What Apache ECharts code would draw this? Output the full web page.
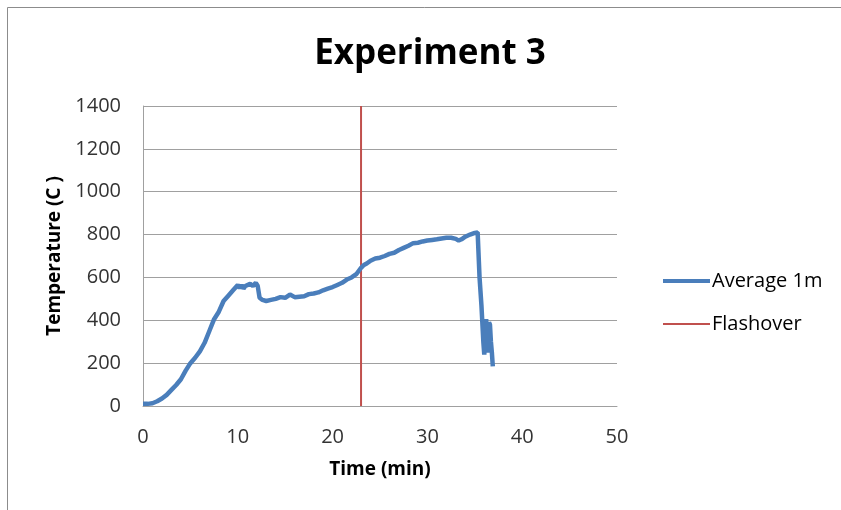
<!DOCTYPE html>
<html><head><meta charset="utf-8">
<script src="https://cdn.jsdelivr.net/npm/echarts@6/dist/echarts.min.js"></script>
<style>html,body{margin:0;padding:0;background:#fff}#c{width:841px;height:510px}</style>
</head><body><div id="c"></div>
<script>
const timeMin = [0,0.5,1,1.5,2,2.5,3,3.5,4,4.5,5,5.5,6,6.5,7,7.5,8,8.5,9,9.5,10,10.2,10.4,10.6,10.8,11,11.3,11.6,11.9,12.1,12.3,12.6,13,13.5,14,14.5,15,15.5,16,16.5,17,17.5,18,18.5,19,19.5,20,20.5,21,21.5,22,22.5,23,23.3,23.6,24,24.5,25,25.5,26,26.5,27,27.5,28,28.5,29,29.5,30,30.5,31,31.5,32,32.5,33,33.3,33.6,34,34.5,35,35.3,35.5,35.7,35.9,36.0,36.1,36.2,36.3,36.4,36.5,36.6,36.7,36.8,36.9];
const avgTemp = [10,10,13,22,35,52,75,98,125,165,200,225,255,295,350,405,440,490,515,540,565,550,565,548,560,555,570,560,575,560,505,495,490,495,500,508,505,520,508,510,512,522,525,530,540,548,555,565,575,590,600,615,645,658,665,678,688,692,700,710,715,728,738,748,760,762,768,772,775,778,782,785,785,780,772,778,790,800,808,810,600,470,300,240,350,405,300,250,390,380,300,250,185];
const flashoverTime = [23, 23];
const flashoverTemp = [0, 1400];
const xTicks = [0,10,20,30,40,50];
const yTicks = [0,200,400,600,800,1000,1200,1400];

const avgData = timeMin.map((t,i)=>[t, avgTemp[i]]);
const flashData = flashoverTime.map((t,i)=>[t, flashoverTemp[i]]);
const font = '"Open Sans", sans-serif';
const chart = echarts.init(document.getElementById('c'), null, {renderer:'canvas'});
chart.setOption({
  animation:false,
  backgroundColor:'#fff',
  graphic:[{type:'rect', shape:{x:7.5,y:7.5,width:900,height:600}, style:{fill:'none', stroke:'#8c8c8c', lineWidth:1}, silent:true}],
  title:{text:'Experiment 3', left:425, top:32, textAlign:'center',
    textStyle:{fontFamily:font, fontWeight:'bold', fontSize:35, color:'#000'}},
  grid:{left:143, right:224, top:106, bottom:104},
  legend:{orient:'vertical', left:658, top:266, itemWidth:47, itemHeight:20, itemGap:23,
    symbolKeepAspect:true,
    textStyle:{fontFamily:font, fontSize:20, color:'#000', padding:[0,0,0,-3]},
    data:[
      {name:'Average 1m', icon:'path://M0,0H47V4H0Z', itemStyle:{color:'#4A7EBB', borderWidth:0}},
      {name:'Flashover', icon:'path://M0,0H47V2H0Z', itemStyle:{color:'#C0504D', borderWidth:0}}
    ]},
  xAxis:{type:'value', min:xTicks[0], max:xTicks[xTicks.length-1], interval:10,
    name:'Time (min)', nameLocation:'middle', nameGap:54,
    nameTextStyle:{fontFamily:font, fontWeight:'bold', fontSize:19, color:'#000'},
    axisLine:{show:true, lineStyle:{color:'#a0a0a0', width:1}}, axisTick:{show:false},
    axisLabel:{fontFamily:font, fontSize:20, color:'#333', margin:21, formatter:v=>String(v)},
    splitLine:{show:false}},
  yAxis:{type:'value', min:yTicks[0], max:yTicks[yTicks.length-1], interval:200,
    name:'Temperature (C )', nameLocation:'middle', nameGap:70,
    nameTextStyle:{fontFamily:font, fontWeight:'bold', fontSize:19, color:'#000'},
    axisLine:{show:true, lineStyle:{color:'#a0a0a0', width:1}}, axisTick:{show:false},
    axisLabel:{fontFamily:font, fontSize:20, color:'#333', margin:22, formatter:v=>String(v)},
    splitLine:{show:true, lineStyle:{color:'#a0a0a0', width:1}}},
  series:[
    {name:'Average 1m', type:'line', data:avgData, showSymbol:false, symbol:'none',
      lineStyle:{color:'#4A7EBB', width:4.5}, itemStyle:{color:'#4A7EBB'}, z:3},
    {name:'Flashover', type:'line', data:flashData, showSymbol:false, symbol:'none',
      lineStyle:{color:'#C0504D', width:2}, itemStyle:{color:'#C0504D'}, z:2}
  ]
});
</script></body></html>
